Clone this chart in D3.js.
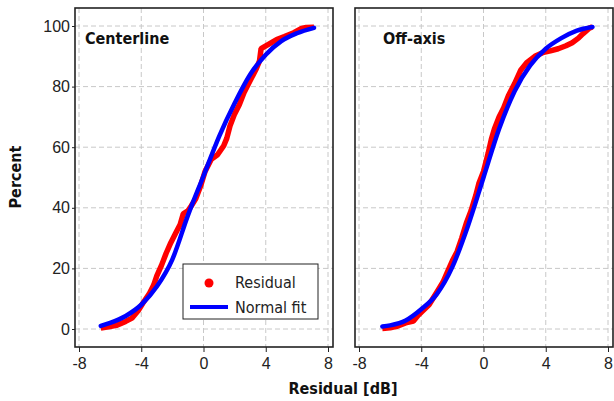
<!DOCTYPE html>
<html lang="en">
<head>
<meta charset="utf-8" />
<title>Residual CDF with normal fit</title>
<script src="https://cdn.jsdelivr.net/npm/d3@7"></script>
<style>
    body { margin: 0; background: #fff; }
    svg { display: block; font-family: "DejaVu Sans Condensed", "DejaVu Sans", sans-serif; }
    .grid line { stroke: #c8c8c8; stroke-dasharray: 5,3; }
    .tick text { font-size: 16px; fill: #222; }
    .label { font-weight: bold; font-size: 16px; fill: #111; }
</style>
</head>
<body>
<svg id="chart" width="614" height="401"></svg>
<script>
// tick values
const xTicks = [-8, -4, 0, 4, 8];
const yTicks = [0, 20, 40, 60, 80, 100];

// Centerline: residual ECDF [dB, %]
const centerResidual = [
    [-6.6, 0.3], [-6.0, 0.8], [-5.6, 1.2], [-5.0, 2.5], [-4.6, 3.6], [-4.2, 6.0],
    [-3.9, 8.5], [-3.5, 11.5], [-3.2, 14.5], [-3.0, 17.5], [-2.7, 21], [-2.4, 25],
    [-2.1, 28.5], [-1.8, 31.5], [-1.5, 34.5], [-1.3, 38], [-1.0, 39], [-0.8, 40.5],
    [-0.5, 43], [-0.2, 47], [0.1, 52], [0.5, 56], [0.9, 57.5], [1.3, 60.5],
    [1.5, 63], [1.7, 67], [2.0, 71], [2.3, 74], [2.6, 78], [3.0, 82], [3.4, 86],
    [3.6, 88.5], [3.7, 92.5], [4.2, 94], [4.7, 95.5], [5.2, 96.5], [5.8, 97.8],
    [6.3, 99.2], [6.6, 99.5], [7.1, 99.6]
];
// Centerline: normal fit
const centerFit = [
    [-6.6, 1.0], [-6, 2.0], [-5, 4.3], [-4, 8], [-3, 14], [-2, 23], [-1, 37.5],
    [0, 50.5], [1, 63.5], [2, 74.5], [3, 84], [4, 90.5], [5, 95], [6, 97.6], [7.1, 99.4]
];

// Off-axis: residual ECDF
const offResidual = [
    [-6.5, 0.2], [-6.0, 0.4], [-5.5, 1.0], [-5.0, 2.0], [-4.5, 2.6], [-4.2, 4.5],
    [-3.9, 6.0], [-3.5, 8], [-3.2, 10.5], [-2.9, 13], [-2.6, 15.5], [-2.3, 19],
    [-2.0, 22.5], [-1.7, 25.5], [-1.4, 30], [-1.1, 35], [-0.8, 39], [-0.5, 44],
    [-0.3, 48], [0.0, 52], [0.3, 58], [0.5, 62.5], [0.7, 66], [1.0, 70], [1.3, 73],
    [1.6, 77], [2.0, 81], [2.4, 85.5], [2.8, 88], [3.3, 90], [3.8, 91.2], [4.3, 91.8],
    [4.8, 92.5], [5.3, 93.5], [5.7, 94.5], [6.1, 96], [6.4, 97.5], [6.8, 99.3], [7.0, 99.7]
];
// Off-axis: normal fit
const offFit = [
    [-6.5, 0.8], [-6, 1.2], [-5, 2.8], [-4, 6.5], [-3, 11.5], [-2, 20.5], [-1, 34],
    [0, 50], [1, 66], [2, 78.5], [3, 87], [4, 92.5], [5, 96], [6, 98.5], [7, 99.7]
];

const panels = [
    { title: "Centerline", left: 75, residual: centerResidual, fit: centerFit, yLabels: true, legend: true },
    { title: "Off-axis", left: 355, residual: offResidual, fit: offFit, yLabels: false, legend: false }
];

const svg = d3.select("#chart");
const plotTop = 8, plotBottom = 347, panelW = 258;

const y = d3.scaleLinear().domain([0, 100]).range([329, 26]);

panels.forEach(p => {
    const x = d3.scaleLinear().domain([-8, 8]).range([p.left + 4, p.left + panelW - 5]);
    const g = svg.append("g");

    // dashed grid
    const grid = g.append("g").attr("class", "grid");
    grid.selectAll(".v").data(xTicks).enter().append("line")
        .attr("x1", d => x(d)).attr("x2", d => x(d))
        .attr("y1", plotTop).attr("y2", plotBottom);
    grid.selectAll(".h").data(yTicks).enter().append("line")
        .attr("x1", p.left).attr("x2", p.left + panelW)
        .attr("y1", d => y(d)).attr("y2", d => y(d));

    // curves
    const line = d3.line().x(d => x(d[0])).y(d => y(d[1]));
    g.append("path").datum(p.residual)
        .attr("d", line)
        .attr("fill", "none").attr("stroke", "#ff0000")
        .attr("stroke-width", 5.5).attr("stroke-linejoin", "bevel");
    g.append("path").datum(p.fit)
        .attr("d", line.curve(d3.curveMonotoneX))
        .attr("fill", "none").attr("stroke", "#0000ff")
        .attr("stroke-width", 4.5).attr("stroke-linecap", "round");

    // frame
    g.append("rect")
        .attr("x", p.left).attr("y", plotTop)
        .attr("width", panelW).attr("height", plotBottom - plotTop)
        .attr("fill", "none").attr("stroke", "#222").attr("stroke-width", 1.6);

    // axes (plain hyphen for negatives, like the original)
    g.append("g")
        .attr("transform", `translate(0,${plotBottom})`)
        .call(d3.axisBottom(x).tickValues(xTicks).tickFormat(d => String(d)).tickSize(5).tickPadding(6))
        .call(a => a.select(".domain").remove())
        .call(a => a.selectAll("line").attr("stroke", "#222"));

    if (p.yLabels) {
        g.append("g")
            .attr("transform", `translate(${p.left},0)`)
            .call(d3.axisLeft(y).tickValues(yTicks).tickSize(3).tickPadding(2))
            .call(a => a.select(".domain").remove())
            .call(a => a.selectAll("line").attr("stroke", "#222"));
    }

    g.append("text").attr("class", "label")
        .attr("x", p.left + (p.yLabels ? 10 : 28)).attr("y", 44)
        .text(p.title);

    if (p.legend) {
        const lg = g.append("g").attr("transform", "translate(183,264)");
        lg.append("rect").attr("width", 135).attr("height", 55)
            .attr("fill", "#fff").attr("stroke", "#222").attr("stroke-width", 1);
        lg.append("circle").attr("cx", 26).attr("cy", 19).attr("r", 4.5).attr("fill", "#ff0000");
        lg.append("line").attr("x1", 7).attr("x2", 45).attr("y1", 43).attr("y2", 43)
            .attr("stroke", "#0000ff").attr("stroke-width", 4);
        lg.append("text").attr("x", 52).attr("y", 24).attr("font-size", 16).attr("fill", "#222").text("Residual");
        lg.append("text").attr("x", 52).attr("y", 49).attr("font-size", 16).attr("fill", "#222").text("Normal fit");
    }
});

// axis titles
svg.append("text").attr("class", "label")
    .attr("transform", "translate(21,177) rotate(-90)")
    .attr("text-anchor", "middle")
    .text("Percent");
svg.append("text").attr("class", "label")
    .attr("x", 343).attr("y", 394)
    .attr("text-anchor", "middle")
    .text("Residual [dB]");
</script>
</body>
</html>
